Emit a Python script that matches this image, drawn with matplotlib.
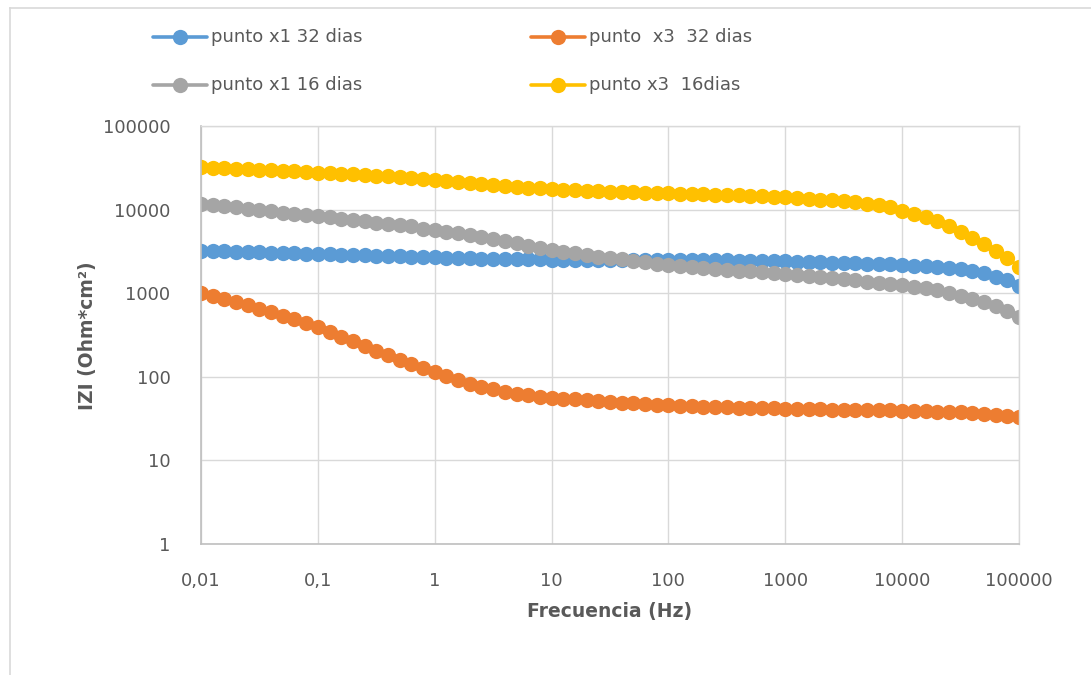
import matplotlib
matplotlib.use("Agg")
import matplotlib.pyplot as plt
from matplotlib.lines import Line2D
from matplotlib.ticker import FixedLocator, FixedFormatter, NullLocator

# ---------------- data ----------------
freq = [0.01, 0.01259, 0.01585, 0.01995, 0.02512, 0.03162, 0.03981, 0.05012, 0.0631, 0.07943,
        0.1, 0.1259, 0.1585, 0.1995, 0.2512, 0.3162, 0.3981, 0.5012, 0.631, 0.7943,
        1, 1.259, 1.585, 1.995, 2.512, 3.162, 3.981, 5.012, 6.31, 7.943,
        10, 12.59, 15.85, 19.95, 25.12, 31.62, 39.81, 50.12, 63.1, 79.43,
        100, 125.9, 158.5, 199.5, 251.2, 316.2, 398.1, 501.2, 631, 794.3,
        1000, 1259, 1585, 1995, 2512, 3162, 3981, 5012, 6310, 7943,
        10000, 12590, 15850, 19950, 25120, 31620, 39810, 50120, 63100, 79430,
        100000]

x1_32 = [3220, 3190, 3160, 3130, 3110, 3080, 3050, 3020, 2990, 2970,
         2940, 2910, 2880, 2860, 2830, 2810, 2780, 2750, 2730, 2710,
         2680, 2660, 2640, 2610, 2590, 2590, 2560, 2560, 2540, 2540,
         2520, 2520, 2520, 2500, 2500, 2500, 2500, 2500, 2470, 2470,
         2470, 2470, 2470, 2470, 2470, 2470, 2450, 2450, 2430, 2430,
         2400, 2380, 2360, 2340, 2320, 2300, 2270, 2250, 2230, 2210,
         2170, 2130, 2100, 2060, 2000, 1930, 1850, 1730, 1580, 1420,
         1230]

x3_32 = [1000, 925, 857, 778, 713, 650, 594, 537, 490, 440,
         390, 344, 299, 266, 232, 206, 183, 161, 143, 128,
         114, 102, 91.2, 82.6, 76.0, 70.6, 66.2, 62.8, 60.0, 57.8,
         56.2, 54.7, 53.7, 52.7, 51.3, 50.4, 49.0, 48.2, 47.3, 46.5,
         45.6, 44.8, 44.4, 44.0, 43.5, 43.1, 42.8, 42.4, 42.0, 41.8,
         41.6, 41.2, 40.8, 40.8, 40.5, 40.5, 40.1, 40.1, 39.7, 39.7,
         39.4, 39.0, 38.6, 38.3, 37.9, 37.6, 36.9, 36.3, 35.3, 34.4,
         33.1]

x1_16 = [11800, 11500, 11100, 10600, 10200, 9820, 9550, 9210, 8960, 8720,
         8410, 8110, 7820, 7540, 7270, 7000, 6750, 6510, 6280, 5940,
         5680, 5420, 5200, 4960, 4720, 4480, 4220, 3940, 3700, 3500,
         3310, 3130, 2990, 2860, 2730, 2640, 2540, 2450, 2340, 2260,
         2170, 2110, 2040, 1990, 1930, 1900, 1860, 1830, 1800, 1750,
         1700, 1640, 1590, 1550, 1510, 1470, 1430, 1380, 1340, 1290,
         1260, 1200, 1150, 1080, 1000, 930, 849, 775, 694, 605,
         513]

x3_16 = [32200, 31600, 31400, 30800, 30200, 29900, 29400, 28900, 28600, 28100,
         27600, 27100, 26800, 26400, 25900, 25400, 24900, 24500, 24000, 23400,
         22800, 22100, 21400, 20800, 20200, 19700, 19100, 18600, 18300, 17900,
         17600, 17300, 17000, 16700, 16500, 16400, 16200, 16100, 15900, 15800,
         15600, 15500, 15400, 15200, 15100, 15000, 14800, 14700, 14600, 14300,
         14000, 13800, 13400, 13200, 12900, 12600, 12200, 11800, 11300, 10700,
         9730, 8960, 8110, 7270, 6280, 5420, 4560, 3870, 3220, 2610,
         2080]

series_labels = ["punto x1 32 dias", "punto  x3  32 dias",
                 "punto x1 16 dias", "punto x3  16dias"]
series_colors = ["#5B9BD5", "#ED7D31", "#A5A5A5", "#FFC000"]

x_ticks = [0.01, 0.1, 1, 10, 100, 1000, 10000, 100000]
x_tick_labels = ["0,01", "0,1", "1", "10", "100", "1000", "10000", "100000"]
y_ticks = [1, 10, 100, 1000, 10000, 100000]
y_tick_labels = ["1", "10", "100", "1000", "10000", "100000"]

x_title = "Frecuencia (Hz)"
y_title = "IZI (Ohm*cm²)"

# ---------------- figure ----------------
W, H = 1091, 675
fig = plt.figure(figsize=(W / 100, H / 100), dpi=100)
fig.patch.set_facecolor("white")
plt.rcParams['font.family'] = ['DejaVu Sans']

def fx(px):
    return px / W

def fy(py):
    return 1 - py / H

# outer chart border (top and left visible)
fig.add_artist(Line2D([fx(10), fx(1091)], [fy(8), fy(8)], color="#d9d9d9", lw=1.2))
fig.add_artist(Line2D([fx(10), fx(10)], [fy(8), fy(675)], color="#d9d9d9", lw=1.2))

ax_l, ax_r, ax_t, ax_b = 201, 1019, 126, 544
ax = fig.add_axes([fx(ax_l), fy(ax_b), fx(ax_r - ax_l), (ax_b - ax_t) / H])

MS = 11
all_series = [x1_32, x3_32, x1_16, x3_16]
lines = []
for vals, lab, col in zip(all_series, series_labels, series_colors):
    ln, = ax.plot(freq, vals, color=col, lw=2.4, marker="o", markersize=MS,
                  markeredgewidth=0, label=lab, solid_capstyle="round")
    lines.append(ln)

ax.set_xscale("log")
ax.set_yscale("log")
ax.set_xlim(0.01, 100000)
ax.set_ylim(1, 100000)
ax.xaxis.set_major_locator(FixedLocator(x_ticks))
ax.xaxis.set_major_formatter(FixedFormatter(x_tick_labels))
ax.yaxis.set_major_locator(FixedLocator(y_ticks))
ax.yaxis.set_major_formatter(FixedFormatter(y_tick_labels))
ax.xaxis.set_minor_locator(NullLocator())
ax.yaxis.set_minor_locator(NullLocator())

ax.grid(True, which="major", color="#d9d9d9", lw=1.0)
ax.set_axisbelow(True)
for side in ["top", "right"]:
    ax.spines[side].set_color("#d9d9d9")
    ax.spines[side].set_linewidth(1.0)
for side in ["left", "bottom"]:
    ax.spines[side].set_color("#bfbfbf")
    ax.spines[side].set_linewidth(1.2)

ax.tick_params(axis="both", which="both", length=0, labelsize=13, labelcolor="#595959")
ax.tick_params(axis="x", pad=20)
ax.tick_params(axis="y", pad=22)

fig.text(fx(610), fy(612), x_title, ha="center", va="center", fontsize=13.5,
         fontweight="bold", color="#595959")
fig.text(fx(88), fy(336), y_title, ha="center", va="center", rotation=90,
         fontsize=13.5, fontweight="bold", color="#595959")

# legend (2 x 2, row-major like the original)
leg_pos = [(153, 37), (531, 37), (153, 85), (531, 85)]
for ln, (lx, ly) in zip(lines, leg_pos):
    fig.add_artist(Line2D([fx(lx), fx(lx + 54)], [fy(ly), fy(ly)],
                          color=ln.get_color(), lw=2.6, solid_capstyle="round"))
    fig.add_artist(Line2D([fx(lx + 27)], [fy(ly)], color=ln.get_color(),
                          marker="o", markersize=MS, markeredgewidth=0, lw=0))
    fig.text(fx(lx + 58), fy(ly), ln.get_label(), ha="left", va="center",
             fontsize=13, color="#595959")

fig.savefig("out.png", dpi=100, facecolor="white")
